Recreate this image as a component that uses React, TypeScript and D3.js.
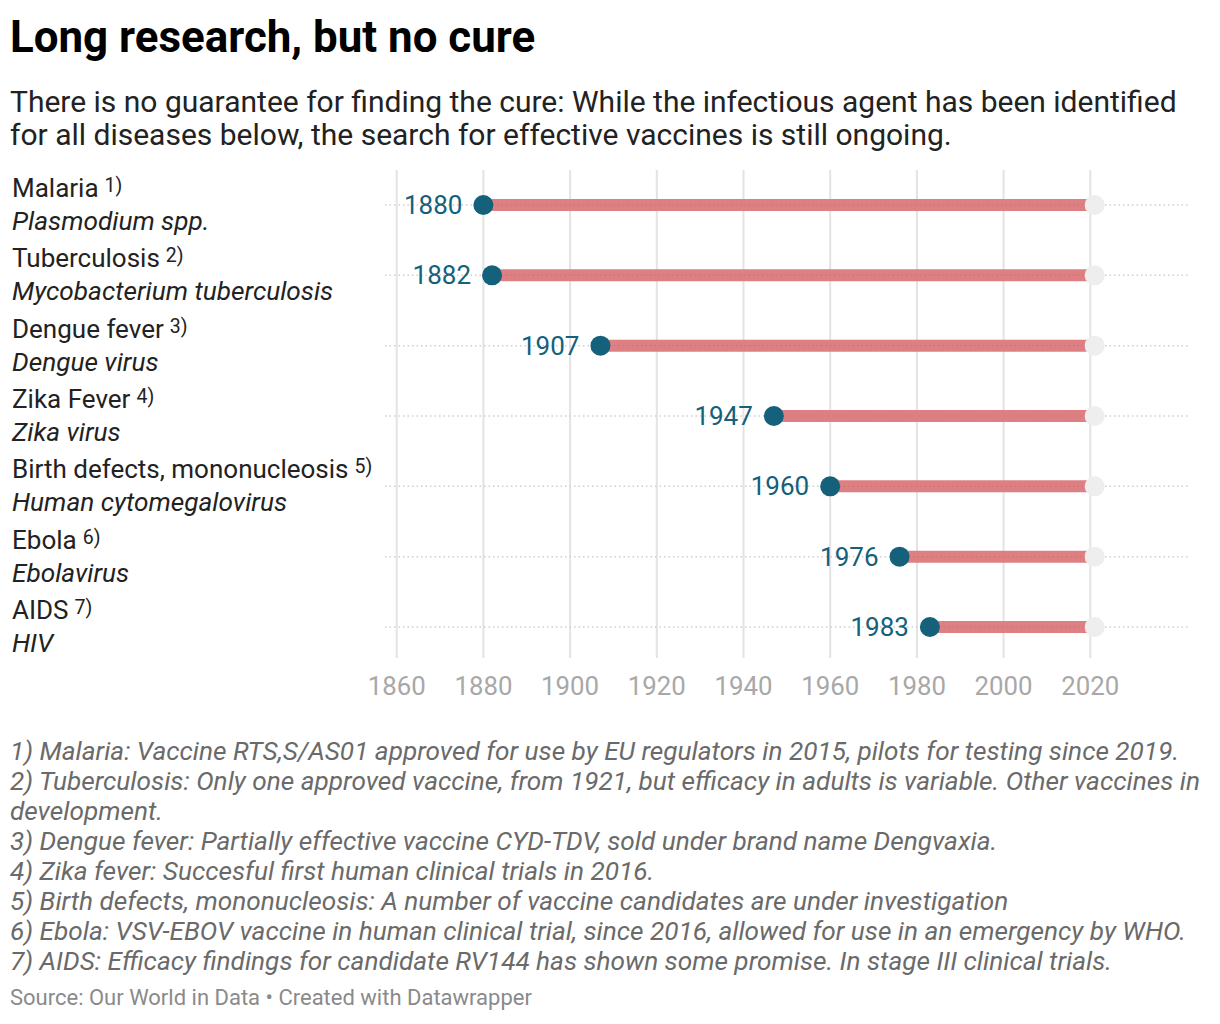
import { useEffect } from "react"
import * as d3 from "d3"

const diseases = ["Malaria", "Tuberculosis", "Dengue fever", "Zika Fever", "Birth defects, mononucleosis", "Ebola", "AIDS"]
const agents = ["Plasmodium spp.", "Mycobacterium tuberculosis", "Dengue virus", "Zika virus", "Human cytomegalovirus", "Ebolavirus", "HIV"]
const notes = ["1)", "2)", "3)", "4)", "5)", "6)", "7)"]
const identified = [1880, 1882, 1907, 1947, 1960, 1976, 1983]
const today = 2021
const ticks = [1860, 1880, 1900, 1920, 1940, 1960, 1980, 2000, 2020]

const footnotes = [
  "1) Malaria: Vaccine RTS,S/AS01 approved for use by EU regulators in 2015, pilots for testing since 2019.",
  "2) Tuberculosis: Only one approved vaccine, from 1921, but efficacy in adults is variable. Other vaccines in",
  "development.",
  "3) Dengue fever: Partially effective vaccine CYD-TDV, sold under brand name Dengvaxia.",
  "4) Zika fever: Succesful first human clinical trials in 2016.",
  "5) Birth defects, mononucleosis: A number of vaccine candidates are under investigation",
  "6) Ebola: VSV-EBOV vaccine in human clinical trial, since 2016, allowed for use in an emergency by WHO.",
  "7) AIDS: Efficacy findings for candidate RV144 has shown some promise. In stage III clinical trials.",
]

const W = 1220
const H = 1024
const font = "Roboto, 'Noto Sans', sans-serif"

export default function App() {
  useEffect(() => {
    document.body.style.margin = "0"
  }, [])

  const x = d3.scaleLinear().domain([1860, 2020]).range([396.7, 1090.3])
  const y = d3.scalePoint<string>().domain(diseases).range([205, 627])
  const gridTop = 170
  const gridBottom = 658

  return (
    <svg width={W} height={H} style={{ display: "block", fontFamily: font }}>
      <rect width={W} height={H} fill="#fff" />
      <text x={10} y={52} fontSize={43.9} fontWeight={700} fill="#000">Long research, but no cure</text>
      <text x={10} y={112} fontSize={30} fill="#222">There is no guarantee for finding the cure: While the infectious agent has been identified</text>
      <text x={10} y={145} fontSize={30} fill="#222">for all diseases below, the search for effective vaccines is still ongoing.</text>

      {ticks.map((t) => (
        <g key={t}>
          <line x1={x(t)} x2={x(t)} y1={gridTop} y2={gridBottom} stroke="#e3e3e3" strokeWidth={2} />
          <text x={x(t)} y={695} textAnchor="middle" fontSize={25.8} fill="#a8a8a8">{t}</text>
        </g>
      ))}

      {diseases.map((d, i) => {
        const cy = y(d) as number
        return (
          <g key={d}>
            <line x1={385} x2={1190} y1={cy} y2={cy} stroke="#cfcfcf" strokeWidth={1.5} strokeDasharray="1.5,3" />
            <line x1={x(identified[i])} x2={x(today)} y1={cy} y2={cy} stroke="#de8083" strokeWidth={12} />
            <line x1={x(identified[i])} x2={x(today)} y1={cy} y2={cy} stroke="#c06a6d" strokeOpacity={0.5} strokeWidth={1.5} strokeDasharray="1.5,3" />
            <circle cx={x(today)} cy={cy} r={10} fill="#eeeeee" />
            <circle cx={x(identified[i])} cy={cy} r={10} fill="#15607a" />
            <text x={x(identified[i]) - 21} y={cy + 9} textAnchor="end" fontSize={26} fill="#15607a">{identified[i]}</text>
            <text x={12} y={cy - 8} fontSize={26} fill="#222">
              {d}
              <tspan fontSize={19.5} dx={6} dy={-5}>{notes[i]}</tspan>
            </text>
            <text x={12} y={cy + 25} fontSize={26.2} fontStyle="italic" fill="#222">{agents[i]}</text>
          </g>
        )
      })}

      {footnotes.map((f, i) => (
        <text key={i} x={10} y={760 + i * 30} fontSize={26.2} fontStyle="italic" fill="#6a6a6a">{f}</text>
      ))}
      <text x={10} y={1005} fontSize={22} fill="#8a8a8a">Source: Our World in Data • Created with Datawrapper</text>
    </svg>
  )
}
